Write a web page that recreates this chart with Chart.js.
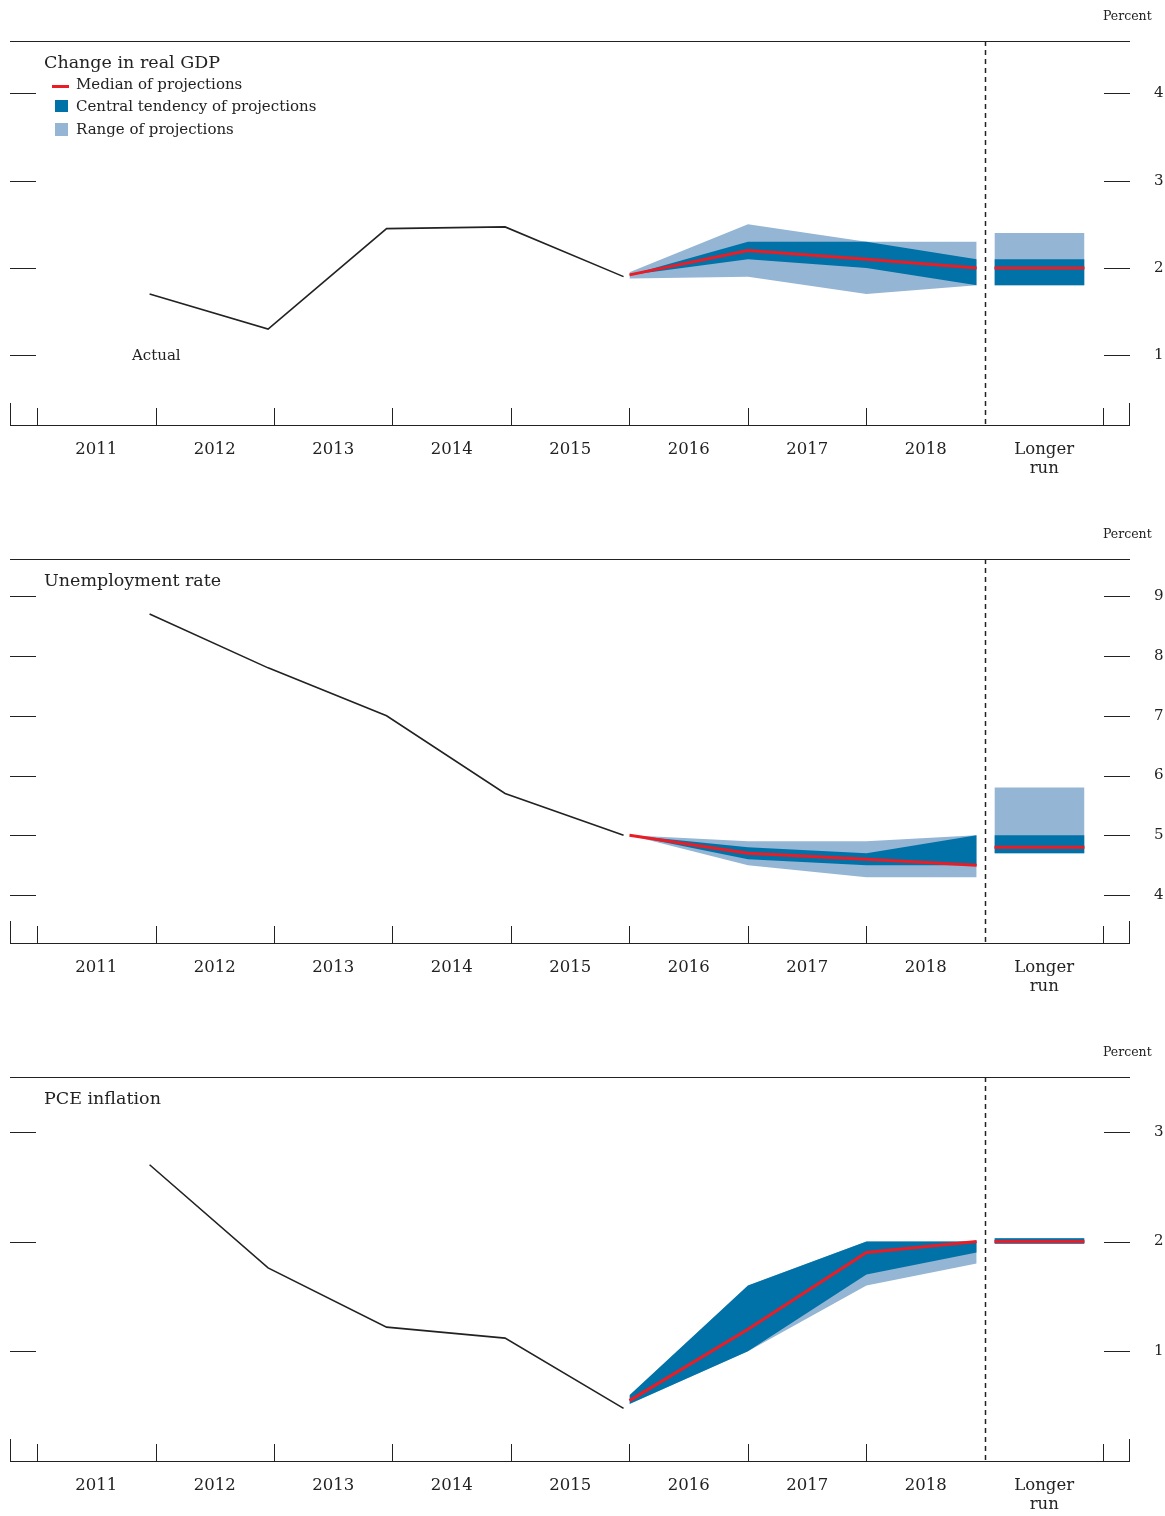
<!DOCTYPE html>
<html>
<head>
<meta charset="utf-8">
<script src="https://cdn.jsdelivr.net/npm/chart.js@4"></script>
<style>
body { margin: 0; background: white; }
canvas { display: block; }
</style>
</head>
<body>
<canvas id="c_gdp" width="1165" height="518"></canvas>
<canvas id="c_unemp" width="1165" height="518"></canvas>
<canvas id="c_pce" width="1165" height="518"></canvas>
<script>
// x positions in "year" units (tick at the start of each year cell)
const actualYears = [2011.95, 2012.95, 2013.95, 2014.95, 2015.95];
const projYears = [2016.0, 2017.0, 2018.0, 2018.93];
const longerRunX = [2019.08, 2019.84];
const yearLabels = ['2011','2012','2013','2014','2015','2016','2017','2018',['Longer','run']];

// Change in real GDP
const gdpActual = [1.7, 1.3, 2.45, 2.47, 1.9];
const gdpMedian = [1.92, 2.2, 2.1, 2.0];
const gdpCtLow = [1.92, 2.1, 2.0, 1.8];
const gdpCtHigh = [1.92, 2.3, 2.3, 2.1];
const gdpRangeLow = [1.88, 1.9, 1.7, 1.8];
const gdpRangeHigh = [1.95, 2.5, 2.3, 2.3];
const gdpLr = {median: 2.0, ctLow: 1.8, ctHigh: 2.1, rangeLow: 1.8, rangeHigh: 2.4};

// Unemployment rate
const unActual = [8.7, 7.8, 7.0, 5.7, 5.0];
const unMedian = [5.0, 4.7, 4.6, 4.5];
const unCtLow = [5.0, 4.6, 4.5, 4.5];
const unCtHigh = [5.0, 4.8, 4.7, 5.0];
const unRangeLow = [5.0, 4.5, 4.3, 4.3];
const unRangeHigh = [5.0, 4.9, 4.9, 5.0];
const unLr = {median: 4.8, ctLow: 4.7, ctHigh: 5.0, rangeLow: 4.7, rangeHigh: 5.8};

// PCE inflation
const pceActual = [2.7, 1.76, 1.22, 1.12, 0.48];
const pceMedian = [0.55, 1.2, 1.9, 2.0];
const pceCtLow = [0.52, 1.0, 1.7, 1.9];
const pceCtHigh = [0.6, 1.6, 2.0, 2.0];
const pceRangeLow = [0.52, 1.0, 1.6, 1.8];
const pceRangeHigh = [0.6, 1.6, 2.0, 2.0];
const pceLr = {median: 2.0, ctLow: 1.98, ctHigh: 2.03, rangeLow: 1.98, rangeHigh: 2.03};

const DARK = 'rgb(0,114,168)';
const LIGHT = 'rgb(148,182,212)';
const RED = 'rgb(236,28,36)';
const FONT = '"DejaVu Serif", serif';

function pts(xs, ys) {
    return ys.map((y, i) => ({x: xs[i], y: y}));
}

function band(xs, low, high, color) {
    return [
        {data: pts(xs, low), borderWidth: 0, borderColor: 'rgba(0,0,0,0)', pointRadius: 0, fill: false},
        {data: pts(xs, high), borderWidth: 0, borderColor: 'rgba(0,0,0,0)', pointRadius: 0, fill: '-1', backgroundColor: color}
    ];
}

const decorPlugin = {
    id: 'decor',
    afterDraw(chart, args, opts) {
        const ctx = chart.ctx;
        const a = chart.chartArea;
        const xs = chart.scales.x;
        const ys = chart.scales.y;
        ctx.save();
        ctx.strokeStyle = '#222';
        ctx.lineWidth = 1;
        // top rule and bottom axis
        ctx.beginPath();
        ctx.moveTo(a.left, a.top + 0.5); ctx.lineTo(a.right, a.top + 0.5);
        ctx.moveTo(a.left, a.bottom + 0.5); ctx.lineTo(a.right, a.bottom + 0.5);
        ctx.moveTo(a.left + 0.5, a.bottom); ctx.lineTo(a.left + 0.5, a.bottom - 22);
        ctx.moveTo(a.right - 0.5, a.bottom); ctx.lineTo(a.right - 0.5, a.bottom - 22);
        for (let yr = 2011; yr <= 2020; yr++) {
            if (yr === 2019) continue;
            const px = Math.round(xs.getPixelForValue(yr)) + 0.5;
            ctx.moveTo(px, a.bottom); ctx.lineTo(px, a.bottom - 17);
        }
        opts.yTicks.forEach(v => {
            const py = Math.round(ys.getPixelForValue(v)) + 0.5;
            ctx.moveTo(a.left, py); ctx.lineTo(a.left + 26, py);
            ctx.moveTo(a.right - 26, py); ctx.lineTo(a.right, py);
        });
        ctx.stroke();
        // dashed separator
        const dx = Math.round(xs.getPixelForValue(2019)) + 0.5;
        ctx.setLineDash([5, 4]);
        ctx.lineWidth = 1.5;
        ctx.beginPath();
        ctx.moveTo(dx, a.top); ctx.lineTo(dx, a.bottom);
        ctx.stroke();
        ctx.setLineDash([]);
        // texts
        ctx.fillStyle = '#222';
        ctx.textBaseline = 'middle';
        ctx.font = '12.5px ' + FONT;
        ctx.fillText('Percent', a.right - 27, 17);
        ctx.font = '17.5px ' + FONT;
        ctx.fillText(opts.title, 44, 63);
        ctx.font = '15px ' + FONT;
        if (opts.legend) {
            ctx.fillStyle = RED;
            ctx.fillRect(52, 85, 17, 3);
            ctx.fillStyle = DARK;
            ctx.fillRect(55, 100, 13, 12);
            ctx.fillStyle = LIGHT;
            ctx.fillRect(55, 123, 13, 13);
            ctx.fillStyle = '#222';
            ctx.fillText('Median of projections', 76, 85);
            ctx.fillText('Central tendency of projections', 76, 107);
            ctx.fillText('Range of projections', 76, 130);
            ctx.fillText('Actual', 132, 356);
        }
        ctx.restore();
    }
};

function makePanel(id, title, yMin, yMax, yTicks, actual, median, ctLow, ctHigh, rLow, rHigh, lr, legend) {
    // lines first so they are drawn on top; central tendency before range
    const datasets = [].concat(
        [
            {data: pts(actualYears, actual), borderColor: '#222', borderWidth: 1.6, pointRadius: 0, fill: false},
            {data: pts(projYears, median), borderColor: RED, borderWidth: 3, pointRadius: 0, fill: false},
            {data: pts(longerRunX, [lr.median, lr.median]), borderColor: RED, borderWidth: 3, pointRadius: 0, fill: false}
        ],
        band(projYears, ctLow, ctHigh, DARK),
        band(longerRunX, [lr.ctLow, lr.ctLow], [lr.ctHigh, lr.ctHigh], DARK),
        band(projYears, rLow, rHigh, LIGHT),
        band(longerRunX, [lr.rangeLow, lr.rangeLow], [lr.rangeHigh, lr.rangeHigh], LIGHT)
    );
    new Chart(document.getElementById(id), {
        type: 'line',
        data: {datasets: datasets},
        plugins: [decorPlugin],
        options: {
            responsive: false,
            animation: false,
            layout: {padding: {left: 10, top: 41, right: 0, bottom: 0}},
            plugins: {
                legend: {display: false},
                tooltip: {enabled: false},
                filler: {drawTime: 'beforeDatasetsDraw'},
                decor: {title: title, yTicks: yTicks, legend: legend}
            },
            scales: {
                x: {
                    type: 'linear', min: 2010.772, max: 2020.224,
                    grid: {display: false}, border: {display: false},
                    afterBuildTicks: s => { s.ticks = yearLabels.map((l, i) => ({value: 2011.5 + i})); },
                    afterFit: s => { s.height = 93; },
                    ticks: {
                        color: '#222', padding: 7, maxRotation: 0, autoSkip: false,
                        font: {family: FONT, size: 16.5, lineHeight: 1.15},
                        callback: (v, i) => yearLabels[i]
                    }
                },
                y: {
                    position: 'right', min: yMin, max: yMax,
                    grid: {display: false}, border: {display: false},
                    afterBuildTicks: s => { s.ticks = yTicks.map(v => ({value: v})); },
                    afterFit: s => { s.width = 35; },
                    ticks: {color: '#222', padding: 16, font: {family: FONT, size: 15}}
                }
            }
        }
    });
}

makePanel('c_gdp', 'Change in real GDP', 0.2, 4.6, [1, 2, 3, 4],
    gdpActual, gdpMedian, gdpCtLow, gdpCtHigh, gdpRangeLow, gdpRangeHigh, gdpLr, true);
makePanel('c_unemp', 'Unemployment rate', 3.2, 9.62, [4, 5, 6, 7, 8, 9],
    unActual, unMedian, unCtLow, unCtHigh, unRangeLow, unRangeHigh, unLr, false);
makePanel('c_pce', 'PCE inflation', 0.0, 3.5, [1, 2, 3],
    pceActual, pceMedian, pceCtLow, pceCtHigh, pceRangeLow, pceRangeHigh, pceLr, false);
</script>
</body>
</html>
